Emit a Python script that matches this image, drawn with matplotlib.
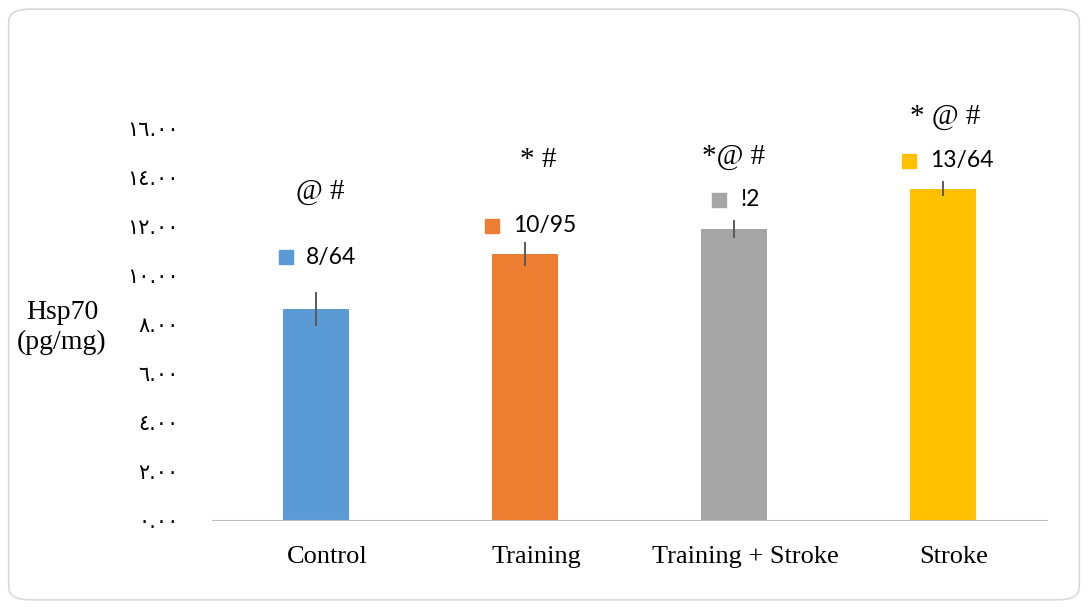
import numpy as np
import matplotlib.pyplot as plt
import matplotlib.transforms as mtransforms
from matplotlib.patches import FancyBboxPatch

categories = ["Control", "Training", "Training + Stroke", "Stroke"]
values = [8.6, 10.86, 11.88, 13.52]
errors = [0.7, 0.5, 0.38, 0.3]
value_labels = ["8/64", "10/95", "!2", "13/64"]
sig_marks = ["@ #", "* #", "*@ #", "* @ #"]
colors = ["#5B9BD5", "#ED7D31", "#A5A5A5", "#FFC000"]
yticks = [0, 2, 4, 6, 8, 10, 12, 14, 16]

# label placement (offsets from bar centre, in data units)
sq_dx = [-0.145, -0.16, -0.07, -0.16]
txt_dx = [-0.05, -0.06, 0.03, -0.06]
lab_y = [10.73, 12.0, 13.06, 14.65]
sig_dx = [0.02, 0.06, 0.0, 0.01]
sig_y = [13.4, 14.7, 14.82, 16.45]

arabic = str.maketrans("0123456789", "٠١٢٣٤٥٦٧٨٩")

fig = plt.figure(figsize=(10.88, 6.09), dpi=100)
border = FancyBboxPatch((0.008, 0.015), 0.984, 0.97, boxstyle="round,pad=0,rounding_size=0.02",
                        transform=fig.transFigure, facecolor="none", edgecolor="#D9D9D9", lw=1.2,
                        zorder=-1)
fig.patches.append(border)

ax = fig.add_axes([0.1949, 0.1461, 0.7675, 0.7245])
ax.set_facecolor("none")
x = np.arange(len(categories))
ax.bar(x, values, width=0.316, color=colors, zorder=2)
ax.errorbar(x, values, yerr=errors, fmt="none", ecolor="#595959", elinewidth=1.4, capsize=0, zorder=3)

for i in range(len(categories)):
    ax.plot(x[i] + sq_dx[i], lab_y[i], marker="s", ms=10, color=colors[i], ls="none", clip_on=False)
    ax.text(x[i] + txt_dx[i], lab_y[i], value_labels[i], fontsize=16.5, family=["Lato", "DejaVu Sans"],
            va="center", ha="left")
    ax.text(x[i] + sig_dx[i], sig_y[i], sig_marks[i], fontsize=21, family="Liberation Serif",
            va="center", ha="center")

ax.set_xlim(-0.5, 3.5)
ax.set_ylim(0, 18)
ax.set_yticks(yticks)
ax.set_yticklabels([f"{v:.2f}".translate(arabic) for v in yticks], family=["DejaVu Sans"], fontsize=15)
ax.set_xticks(x)
ax.set_xticklabels(categories, family="Liberation Serif", fontsize=19)
ax.tick_params(axis="both", length=0)
ax.tick_params(axis="y", pad=24)
ax.tick_params(axis="x", pad=19)
for s in ["top", "right", "left"]:
    ax.spines[s].set_visible(False)
ax.spines["bottom"].set_color("#BFBFBF")

# category labels sit slightly right of the bar centres
shift = mtransforms.ScaledTranslation(0.11, 0, fig.dpi_scale_trans)
for lbl in ax.get_xticklabels():
    lbl.set_transform(lbl.get_transform() + shift)

fig.text(0.057, 0.462, "Hsp70\n(pg/mg)", family="Liberation Serif", fontsize=20,
         ha="center", va="center", linespacing=1.25)

fig.savefig("out.png", dpi=100)
